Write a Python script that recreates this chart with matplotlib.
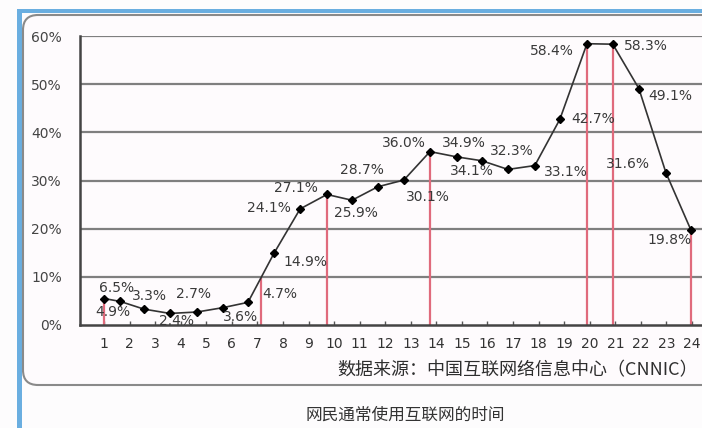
import matplotlib
matplotlib.use('Agg')
import matplotlib.pyplot as plt
from matplotlib.patches import FancyBboxPatch, Rectangle
from matplotlib.transforms import IdentityTransform
import numpy as np

# hour positions of the points (tick units)
hours = [1.0, 1.63, 2.56, 3.58, 4.64, 5.65, 6.63, 7.65, 8.67, 9.72, 10.70, 11.71,
         12.73, 13.75, 14.80, 15.78, 16.80, 17.85, 18.83, 19.89, 20.90, 21.92, 22.98, 23.95]
values = [5.5, 4.9, 3.3, 2.4, 2.7, 3.6, 4.7, 14.9, 24.1, 27.1, 25.9, 28.7,
          30.1, 36.0, 34.9, 34.1, 32.3, 33.1, 42.7, 58.4, 58.3, 49.1, 31.6, 19.8]
labels = ['6.5%', '4.9%', '3.3%', '2.4%', '2.7%', '3.6%', '4.7%', '14.9%', '24.1%', '27.1%',
          '25.9%', '28.7%', '30.1%', '36.0%', '34.9%', '34.1%', '32.3%', '33.1%', '42.7%',
          '58.4%', '58.3%', '49.1%', '31.6%', '19.8%']
x_ticks = list(range(1, 25))
y_ticks = [0, 10, 20, 30, 40, 50, 60]
red_x = [1.0, 7.14, 9.72, 13.75, 19.89, 20.90, 23.95]

# label offsets in pixels
offsets = [(13, 11), (-7, -11), (6, 13), (7, -8), (-4, 18), (18, -9), (32, 8), (31, -9),
           (-31, 1), (-31, 6), (4, -13), (-16, 17), (24, -17), (-26, 9), (7, 14), (-10, -10),
           (4, 18), (31, -6), (33, 0), (-35, -7), (33, -2), (31, -7), (-38, 9), (-21, -10)]

cjk = ['Noto Sans CJK SC', 'DejaVu Sans']

fig = plt.figure(figsize=(7.02, 4.28), dpi=100)
fig.patch.set_facecolor('#fdfcfd')

# frame decorations (pixel coords)
fig.patches.append(Rectangle((17, 0), 5, 418, transform=IdentityTransform(),
                             facecolor='#6aaee0', edgecolor='none', zorder=0))
fig.patches.append(Rectangle((17, 415), 700, 4, transform=IdentityTransform(),
                             facecolor='#6aaee0', edgecolor='none', zorder=0))
fig.patches.append(FancyBboxPatch((38, 58), 700, 340, boxstyle='round,pad=15',
                                  transform=IdentityTransform(), facecolor='#fefbfd',
                                  edgecolor='#8a8a8a', linewidth=1.5, zorder=0))

ax = fig.add_axes([80 / 702, 1 - 325 / 428, 622 / 702, 289 / 428])
ax.set_zorder(2)
ax.set_facecolor('none')
ax.set_xlim(0.061, 24.39)
ax.set_ylim(0, 60)

for y in y_ticks[1:]:
    ax.axhline(y, color='#7f7f7f', lw=1.6, zorder=1)

heights = np.interp(red_x, hours, values)
ax.vlines(red_x, 0, heights, color='#e06a7c', lw=1.6, zorder=2)

ax.plot(hours, values, color='#333333', lw=1.2, marker='D', markersize=4.5,
        markerfacecolor='black', markeredgecolor='black', zorder=3)

for x, v, t, (dx, dy) in zip(hours, values, labels, offsets):
    ax.annotate(t, (x, v), xytext=(dx, dy), textcoords='offset pixels',
                ha='center', va='center', fontsize=10, color='#3a3a3a', zorder=4)

ax.set_xticks(x_ticks)
ax.set_xticklabels([str(h) for h in x_ticks], fontsize=10, color='#333333')
ax.set_yticks(y_ticks)
ax.set_yticklabels(['%d%%' % y for y in y_ticks], fontsize=10, color='#444444')
ax.tick_params(axis='x', direction='in', length=3, width=1, color='#555555', pad=9)
ax.tick_params(axis='y', length=0, pad=13)

for side in ['top', 'right']:
    ax.spines[side].set_visible(False)
ax.spines['left'].set_color('#444444')
ax.spines['left'].set_linewidth(1.8)
ax.spines['bottom'].set_color('#444444')
ax.spines['bottom'].set_linewidth(1.8)

fig.text(337 / 702, 1 - 370 / 428, '数据来源：中国互联网络信息中心（CNNIC）',
         family=cjk, fontsize=13, color='#2e2e2e', ha='left', va='center')
fig.text(405 / 702, 1 - 415 / 428, '网民通常使用互联网的时间',
         family=cjk, fontsize=12, color='#333333', ha='center', va='center')

fig.savefig('out.png', dpi=100, facecolor=fig.get_facecolor())
